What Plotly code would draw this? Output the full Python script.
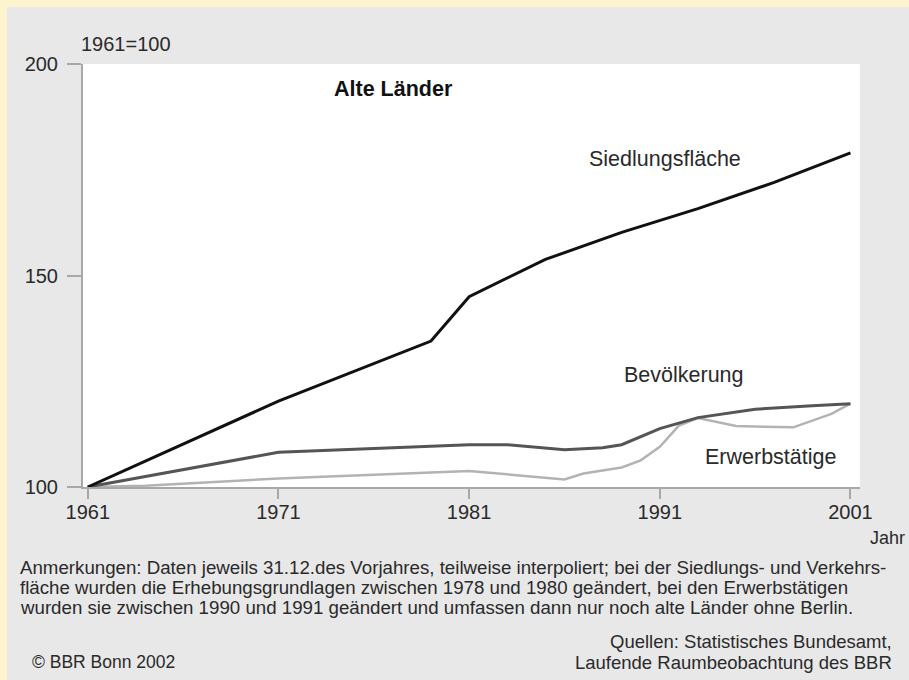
import plotly.graph_objects as go

# ---- data ----
years_siedlung = [1961, 1971, 1979, 1981, 1985, 1989, 1993, 1997, 2001]
siedlung = [100, 120.3, 134.5, 145.0, 153.8, 160.2, 165.8, 172.0, 179.0]

years_bev = [1961, 1971, 1981, 1983, 1986, 1988, 1989, 1991, 1993, 1996, 1999, 2001]
bevoelkerung = [100, 108.2, 110.0, 110.0, 108.8, 109.3, 110.0, 113.8, 116.4, 118.4, 119.2, 119.7]

years_erw = [1961, 1964, 1971, 1981, 1986, 1987, 1989, 1990, 1991, 1992, 1993, 1995, 1998, 2000, 2001]
erwerbstaetige = [100, 100.3, 102.0, 103.8, 101.8, 103.2, 104.6, 106.3, 109.5, 114.5, 116.3, 114.4, 114.1, 117.3, 119.7]

x_ticks = [1961, 1971, 1981, 1991, 2001]
y_ticks = [100, 150, 200]

note_lines = [
    "Anmerkungen: Daten jeweils 31.12.des Vorjahres, teilweise interpoliert; bei der Siedlungs- und Verkehrs-",
    "fläche wurden die Erhebungsgrundlagen zwischen 1978 und 1980 geändert, bei den Erwerbstätigen",
    "wurden sie zwischen 1990 und 1991 geändert und umfassen dann nur noch alte Länder ohne Berlin.",
]
source_lines = ["Quellen: Statistisches Bundesamt,", "Laufende Raumbeobachtung des BBR"]

# ---- layout geometry (pixels) ----
W, H = 909, 680
L, R, T, B = 83, 49, 64, 193
PW, PH = W - L - R, H - T - B


def px(x):
    return (x - L) / PW


def py(y):
    return (H - B - y) / PH


FONT = "Liberation Sans, Arial, sans-serif"
TXT = "#2a2a2a"
YELLOW = "#fdf3cc"

fig = go.Figure()
fig.add_trace(go.Scatter(x=years_erw, y=erwerbstaetige, mode="lines",
                         line=dict(color="#b3b3b3", width=2.5), hoverinfo="skip"))
fig.add_trace(go.Scatter(x=years_bev, y=bevoelkerung, mode="lines",
                         line=dict(color="#555555", width=3), hoverinfo="skip"))
fig.add_trace(go.Scatter(x=years_siedlung, y=siedlung, mode="lines",
                         line=dict(color="#111111", width=3), hoverinfo="skip"))

shapes = [
    dict(type="rect", xref="paper", yref="paper", layer="below",
         x0=px(-5), x1=px(W + 5), y0=py(7), y1=py(-5),
         fillcolor=YELLOW, line=dict(width=0)),
    dict(type="rect", xref="paper", yref="paper", layer="below",
         x0=px(-5), x1=px(7), y0=py(H + 5), y1=py(-5),
         fillcolor=YELLOW, line=dict(width=0)),
]

annotations = [
    dict(text="1961=100", x=px(79), y=py(44), xanchor="left", yanchor="middle",
         font=dict(size=20, color=TXT)),
    dict(text="<b>Alte Länder</b>", x=px(393), y=py(89), xanchor="center", yanchor="middle",
         font=dict(size=21.5, color="#111")),
    dict(text="Siedlungsfläche", x=px(665), y=py(159), xanchor="center", yanchor="middle",
         font=dict(size=21.5, color=TXT)),
    dict(text="Bevölkerung", x=px(684), y=py(375), xanchor="center", yanchor="middle",
         font=dict(size=21.5, color=TXT)),
    dict(text="Erwerbstätige", x=px(770), y=py(457), xanchor="center", yanchor="middle",
         font=dict(size=21.5, color=TXT)),
    dict(text="Jahr", x=px(907), y=py(538), xanchor="right", yanchor="middle",
         font=dict(size=18, color=TXT)),
    dict(text="© BBR Bonn 2002", x=px(30), y=py(662), xanchor="left", yanchor="middle",
         font=dict(size=17.5, color=TXT)),
]
for i, line in enumerate(note_lines):
    annotations.append(dict(text=line, x=px(18), y=py(567 + 20 * i), xanchor="left",
                            yanchor="middle", font=dict(size=18.7, color=TXT)))
for i, line in enumerate(source_lines):
    annotations.append(dict(text=line, x=px(894), y=py(641 + 21 * i), xanchor="right",
                            yanchor="middle", font=dict(size=18.5, color=TXT)))
for a in annotations:
    a.update(xref="paper", yref="paper", showarrow=False)

fig.update_layout(
    width=W, height=H,
    margin=dict(l=L, r=R, t=T, b=B, pad=0),
    paper_bgcolor="#e8e8e8",
    plot_bgcolor="#ffffff",
    showlegend=False,
    font=dict(family=FONT, color=TXT),
    shapes=shapes,
    annotations=annotations,
    xaxis=dict(range=[1960.75, 2001.5], tickvals=x_ticks, ticktext=[str(v) for v in x_ticks],
               showgrid=False, zeroline=False, showline=True, linecolor="#a8a8a8", linewidth=2,
               ticks="outside", ticklen=10, tickwidth=2, tickcolor="#a8a8a8",
               tickfont=dict(size=20, color=TXT), fixedrange=True),
    yaxis=dict(range=[100, 200], tickvals=y_ticks, ticktext=[str(v) for v in y_ticks],
               showgrid=False, zeroline=False, showline=True, linecolor="#a8a8a8", linewidth=2,
               ticks="outside", ticklen=14, tickwidth=2, tickcolor="#a8a8a8",
               tickfont=dict(size=20, color=TXT), fixedrange=True),
)

try:
    fig.update_xaxes(ticklabelstandoff=-4)
except Exception:
    pass
try:
    fig.update_yaxes(ticklabelstandoff=5)
except Exception:
    pass

fig.write_html("out.html", config={"displayModeBar": False},
               post_script="document.body.style.margin='0';document.body.style.overflow='hidden';")
